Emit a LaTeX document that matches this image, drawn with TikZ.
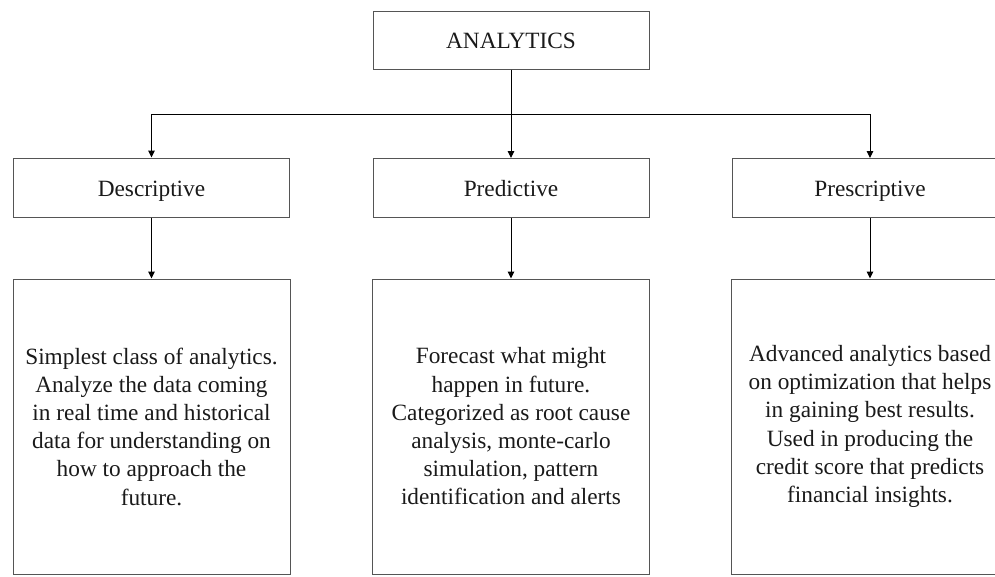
\documentclass[tikz,border=0pt]{standalone}
\usepackage{fontspec}
\setmainfont{Liberation Serif}
\usetikzlibrary{arrows.meta}
\definecolor{boxline}{HTML}{555555}
\definecolor{txt}{HTML}{1A1A1A}
\tikzset{
  box/.style={draw=boxline, line width=1pt, inner sep=0pt, text=txt,
    font=\fontsize{23.3}{28.2}\selectfont, align=center},
  headbox/.style={box, minimum width=276pt, minimum height=59pt,
    text height=20pt, text depth=2.6pt},
  textbox/.style={box, minimum width=277pt, minimum height=295pt},
  conn/.style={draw=black, line width=1pt},
  arr/.style={conn, -{Triangle[length=7pt,width=6.5pt]}},
}
\begin{document}
\begin{tikzpicture}[x=1pt,y=-1pt]
\useasboundingbox (0,0) rectangle (995,576);
\fill[white] (0,0) rectangle (995,576);
\clip (0,0) rectangle (995,576);
\node[headbox, minimum height=58pt] (analytics) at (511,40) {ANALYTICS};
\node[headbox] (desc) at (151.5,187.5) {Descriptive};
\node[headbox] (pred) at (511,188) {Predictive};
\node[headbox] (presc) at (870,188) {Prescriptive};
\node[textbox] (descT) at (151.5,426.5) {Simplest class of analytics.\\Analyze the data coming\\in real time and historical\\data for understanding on\\how to approach the\\future.};
\node[textbox] (predT) at (511,426.5) {Forecast what might\\happen in future.\\Categorized as root cause\\analysis, monte-carlo\\simulation, pattern\\identification and alerts};
\node[textbox] (prescT) at (870,426.5) {Advanced analytics based\\on optimization that helps\\in gaining best results.\\Used in producing the\\credit score that predicts\\financial insights.};
\coordinate (bm) at (511,114);
\coordinate (bl) at (151.5,114);
\coordinate (brt) at (870,114);
\draw[conn] (analytics.south) -- (bm);
\draw[conn] (bl) -- (brt);
\draw[arr] (bl) -- (desc.north);
\draw[arr] (bm) -- (pred.north);
\draw[arr] (brt) -- (presc.north);
\draw[arr] (desc.south) -- (descT.north);
\draw[arr] (pred.south) -- (predT.north);
\draw[arr] (presc.south) -- (prescT.north);
\end{tikzpicture}
\end{document}
